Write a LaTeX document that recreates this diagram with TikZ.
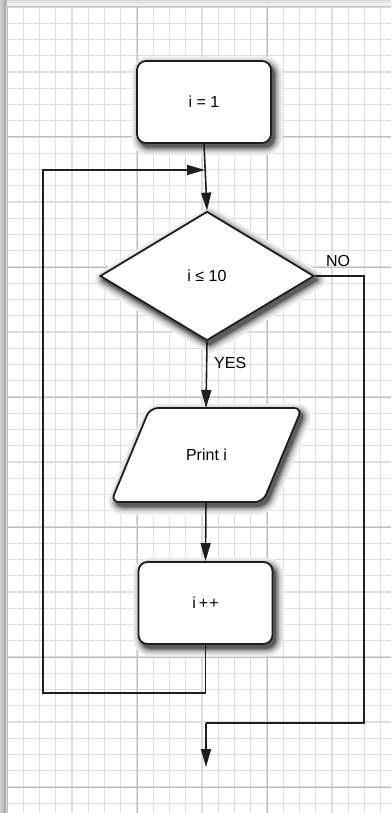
\documentclass[tikz,border=0pt]{standalone}
\usepackage{fontspec}
\setmainfont{Liberation Sans}
\usetikzlibrary{arrows.meta,shapes.geometric,calc}
\definecolor{finegrid}{HTML}{DCDCDC}
\definecolor{majorgrid}{HTML}{BDBDBD}
\definecolor{ink}{HTML}{1E1E1E}
\newcommand\softshadow[1]{%
  \filldraw[black!7,line width=17pt,line join=round] #1;
  \filldraw[black!14,line width=13pt,line join=round] #1;
  \filldraw[black!24,line width=9.5pt,line join=round] #1;
  \filldraw[black!36,line width=6.5pt,line join=round] #1;
  \filldraw[black!50,line width=3.5pt,line join=round] #1;
  \filldraw[black!64,line width=1pt,line join=round] #1;
}
\tikzset{
  fnt/.style={font=\fontsize{16}{19}\selectfont},
  procbox/.style={draw=ink,line width=1.8pt,fill=white,rounded corners=9pt,minimum width=134pt,minimum height=82pt,inner sep=0pt,fnt},
  decbox/.style={diamond,draw=ink,line width=1.8pt,fill=white,minimum width=214pt,minimum height=129pt,inner sep=0pt,fnt},
  txt/.style={inner sep=0pt,fnt},
  lbl/.style={inner sep=0pt,fnt},
  conn/.style={draw=ink,line width=1.6pt},
  arr/.style={conn,-{Triangle[length=18pt,width=10pt]}},
}
\begin{document}
\begin{tikzpicture}[x=1pt,y=-1pt]
\useasboundingbox (0,0) rectangle (391,813);
% background
\fill[white] (0,0) rectangle (391,813);
\shade[top color=black!14,bottom color=white] (0,0) rectangle (391,7);
\shade[left color=black!18,right color=black!36] (0,0) rectangle (6,813);
\fill[black!28] (6,0) rectangle (7,813);
% fine grid
\foreach \k in {0,...,24} {
  \draw[finegrid,line width=1.3pt] ({7+16.25*\k},7) -- ({7+16.25*\k},813);
}
\foreach \k in {0,...,50} {
  \draw[finegrid,line width=1.3pt] (7,{7+16.25*\k}) -- (391,{7+16.25*\k});
}
\foreach \k in {0,...,3} {
  \draw[majorgrid,line width=1pt] ({7+130*\k},7) -- ({7+130*\k},813);
}
\foreach \k in {0,...,6} {
  \draw[majorgrid,line width=1pt] (7,{7+130*\k}) -- (391,{7+130*\k});
}
% shadows
\softshadow{[rounded corners=9pt] (140,65) rectangle (274,147)}
\softshadow{(210,215.5) -- (317,280) -- (210,344.5) -- (103,280) -- cycle}
\softshadow{[rounded corners=8pt] (153,412) -- (305,412) -- (266,506) -- (114,506) -- cycle}
\softshadow{[rounded corners=9pt] (141.5,566) rectangle (275.5,648)}
% nodes
\node[procbox] (init) at (204,102) {i = 1};
\node[decbox] (test) at (207,276) {i ≤ 10};
% parallelogram
\coordinate (pc) at (206.5,455);
\draw[draw=ink,line width=1.8pt,fill=white,rounded corners=8pt]
  (150,408) -- (302,408) -- (263,502) -- (111,502) -- cycle;
\node[txt] (print) at (pc) {Print i};
\coordinate (ptop) at (206,408);
\coordinate (pbot) at (206,502);
\node[procbox] (inc) at (205.5,603) {i\hspace{3pt}+\hspace{1pt}+};
% connectors
\coordinate (join) at (205,170);
\coordinate (lb) at (43,693);
\coordinate (lt) at (43,170);
\coordinate (nr) at (364,276);
\coordinate (nb) at (364,723);
\coordinate (eb) at (206,723);
\coordinate (ex) at (206,767);
\draw[arr] (init.south) -- (test.north);
\draw[arr] (test.south) -- (ptop);
\draw[arr] (pbot) -- (inc.north);
\draw[arr] (inc.south) |- (lb) -- (lt) -- (join);
\draw[conn] (test.east) -- (nr) -- (nb) -- (eb);
\draw[arr] (eb) -- (ex);
% labels
\node[lbl,anchor=west] (yes) at (214,363) {YES};
\node[lbl] (no) at (338,261) {NO};
\end{tikzpicture}
\end{document}
